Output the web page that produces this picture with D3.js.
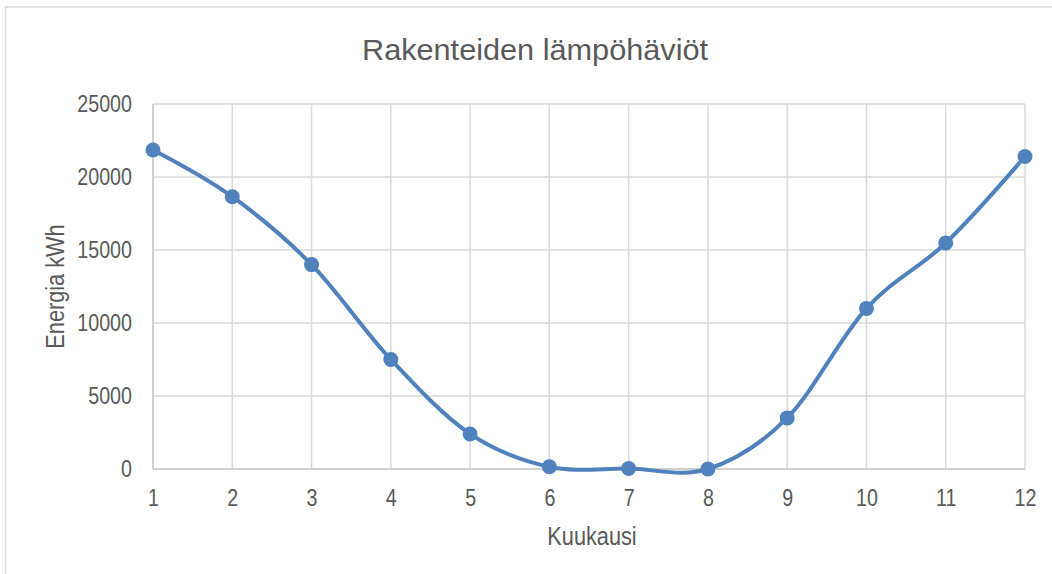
<!DOCTYPE html>
<html>
<head>
<meta charset="utf-8">
<script src="https://cdn.jsdelivr.net/npm/d3@7"></script>
<style>
  body { margin: 0; background: #fff; }
  svg { display: block; }
</style>
</head>
<body>
<div id="chart"></div>
<script>
// data
const months = [1, 2, 3, 4, 5, 6, 7, 8, 9, 10, 11, 12];
const energy = [21850, 18650, 14000, 7500, 2400, 150, 30, 0, 3500, 11000, 15480, 21400];
const yTicks = [0, 5000, 10000, 15000, 20000, 25000];

const chartTitle = "Rakenteiden lämpöhäviöt";
const xTitle = "Kuukausi";
const yTitle = "Energia kWh";

// set the dimensions and margins of the graph
const W = 1052, H = 574;
const margin = {top: 104, right: 27, bottom: 105, left: 153};
const width = W - margin.left - margin.right,
    height = H - margin.top - margin.bottom;

// no narrow font installed, so squeeze the regular one horizontally
const font = "'Liberation Sans', Arial, sans-serif";
const squeeze = 0.82;
const textColor = "#595959";
const gridColor = "#d9d9d9";
const lineColor = "#4f81bd";

const root = d3.select("#chart")
    .append("svg")
    .attr("width", W)
    .attr("height", H);

// outer chart border
root.append("rect")
    .attr("x", 5.5).attr("y", 7)
    .attr("width", W + 10).attr("height", H + 10)
    .attr("fill", "none")
    .attr("stroke", "#d9d9d9")
    .attr("stroke-width", 1.5);

const svg = root.append("g")
    .attr("transform", `translate(${margin.left},${margin.top})`);

// scales
const x = d3.scaleLinear()
    .domain([1, 12])
    .range([0, width]);
const y = d3.scaleLinear()
    .domain([0, 25000])
    .range([height, 0]);

// gridlines
svg.append("g")
    .selectAll("line")
    .data(yTicks)
    .join("line")
    .attr("x1", 0).attr("x2", width)
    .attr("y1", d => y(d)).attr("y2", d => y(d))
    .attr("stroke", gridColor)
    .attr("stroke-width", 1.5);
svg.append("g")
    .selectAll("line")
    .data(months)
    .join("line")
    .attr("x1", d => x(d)).attr("x2", d => x(d))
    .attr("y1", 0).attr("y2", height)
    .attr("stroke", gridColor)
    .attr("stroke-width", 1.5);

// axes lines
svg.append("line")
    .attr("x1", 0).attr("x2", width)
    .attr("y1", height).attr("y2", height)
    .attr("stroke", "#c8c8c8").attr("stroke-width", 1.5);
svg.append("line")
    .attr("x1", 0).attr("x2", 0)
    .attr("y1", 0).attr("y2", height)
    .attr("stroke", "#c8c8c8").attr("stroke-width", 1.5);

// X axis labels
const xAxis = svg.append("g")
    .attr("transform", `translate(0, ${height})`)
    .call(d3.axisBottom(x).tickValues(months).tickFormat(d3.format("d")).tickSize(0).tickPadding(20));
xAxis.select(".domain").remove();
xAxis.selectAll("text")
    .attr("fill", textColor)
    .attr("transform", `scale(${squeeze},1)`)
    .style("font-family", font)
    .style("font-size", "24px");

// Y axis labels
const yAxis = svg.append("g")
    .call(d3.axisLeft(y).tickValues(yTicks).tickFormat(d3.format("d")).tickSize(0));
yAxis.select(".domain").remove();
yAxis.selectAll("text")
    .attr("fill", textColor)
    .attr("x", -21 / squeeze)
    .attr("transform", `scale(${squeeze},1)`)
    .style("font-family", font)
    .style("font-size", "24px");

// the smoothed line
const line = d3.line()
    .x((d, i) => x(months[i]))
    .y(d => y(d))
    .curve(d3.curveCardinal.tension(0));

svg.append("path")
    .datum(energy)
    .attr("fill", "none")
    .attr("stroke", lineColor)
    .attr("stroke-width", 4)
    .attr("stroke-linecap", "round")
    .attr("d", line);

svg.append("g")
    .selectAll("circle")
    .data(energy)
    .join("circle")
    .attr("cx", (d, i) => x(months[i]))
    .attr("cy", d => y(d))
    .attr("r", 7.5)
    .attr("fill", lineColor);

// titles
root.append("text")
    .attr("transform", "translate(535, 60) scale(1.04,1)")
    .attr("text-anchor", "middle")
    .attr("fill", textColor)
    .style("font-family", font)
    .style("font-size", "29.5px")
    .text(chartTitle);

root.append("text")
    .attr("transform", `translate(592, 545) scale(${squeeze},1)`)
    .attr("text-anchor", "middle")
    .attr("fill", textColor)
    .style("font-family", font)
    .style("font-size", "26.5px")
    .text(xTitle);

root.append("text")
    .attr("transform", `translate(64, ${margin.top + height / 2}) rotate(-90) scale(${squeeze},1)`)
    .attr("text-anchor", "middle")
    .attr("fill", textColor)
    .style("font-family", font)
    .style("font-size", "26.5px")
    .text(yTitle);
</script>
</body>
</html>
